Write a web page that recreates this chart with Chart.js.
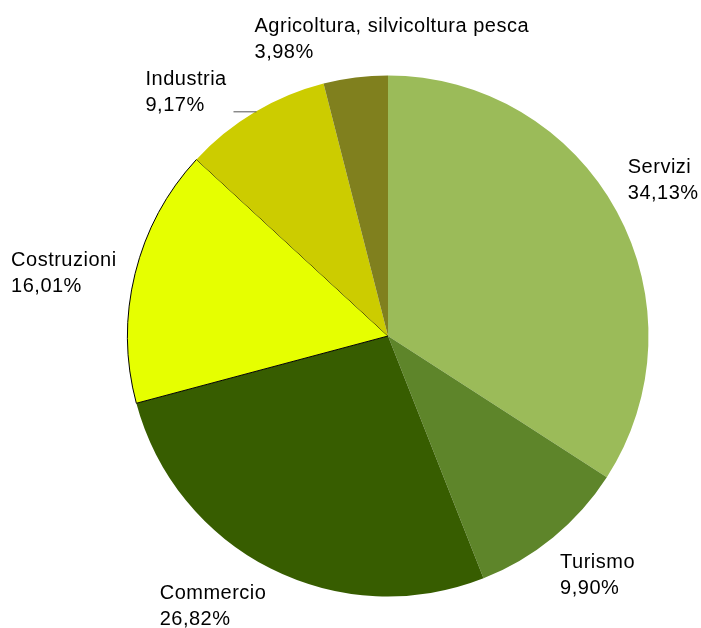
<!DOCTYPE html>
<html>
<head>
<meta charset="utf-8">
<script src="https://cdn.jsdelivr.net/npm/chart.js@4.4.1/dist/chart.umd.min.js"></script>
<style>
  html, body { margin: 0; padding: 0; background: #fff; }
  #wrap { width: 701px; height: 628px; }
</style>
</head>
<body>
<div id="wrap"><canvas id="c"></canvas></div>
<script>
const sectors = ["Servizi", "Turismo", "Commercio", "Costruzioni", "Industria", "Agricoltura, silvicoltura pesca"];
const shares = [34.13, 9.90, 26.82, 16.01, 9.17, 3.98];
const colors = ["#9BBB59", "#5E852A", "#375D00", "#E6FF00", "#CCCC00", "#80801E"];

// label placement relative to the outer middle point of each slice
const labelOffsets = [
  { dx: 11, dy: -38 },
  { dx: 7, dy: 30 },
  { dx: -111, dy: 30 },
  { dx: -124, dy: -8 },
  { dx: -109, dy: -27, leader: true },
  { dx: -101, dy: -46 },
];

const outsideLabels = {
  id: "outsideLabels",
  afterDatasetsDraw(chart) {
    const { ctx } = chart;
    const meta = chart.getDatasetMeta(0);
    ctx.save();
    ctx.font = "20px 'Liberation Sans', Arial, sans-serif";
    ctx.letterSpacing = "0.5px";
    ctx.fillStyle = "#000";
    ctx.textAlign = "left";
    ctx.textBaseline = "alphabetic";
    meta.data.forEach((arc, i) => {
      const { x, y, startAngle, endAngle, outerRadius } = arc.getProps(
        ["x", "y", "startAngle", "endAngle", "outerRadius"], true);
      const mid = (startAngle + endAngle) / 2;
      const px = x + Math.cos(mid) * outerRadius;
      const py = y + Math.sin(mid) * outerRadius;
      const off = labelOffsets[i];
      const tx = px + off.dx;
      const ty = py + off.dy;
      ctx.fillText(sectors[i], tx, ty);
      ctx.fillText(shares[i].toFixed(2).replace(".", ",") + "%", tx, ty + 26);
      if (off.leader) {
        ctx.strokeStyle = "#555";
        ctx.lineWidth = 1;
        ctx.beginPath();
        ctx.moveTo(tx + 88, ty + 26.5);
        ctx.lineTo(px + 2, ty + 26.5);
        ctx.stroke();
      }
    });
    ctx.restore();
  },
};

new Chart(document.getElementById("c"), {
  type: "pie",
  plugins: [outsideLabels],
  data: {
    labels: sectors,
    datasets: [
      {
        data: shares,
        backgroundColor: colors,
        borderColor: "#000",
        borderWidth: [0, 0, 0, 1, 0, 0],
      },
    ],
  },
  options: {
    animation: false,
    responsive: true,
    maintainAspectRatio: false,
    layout: {
      padding: { left: 127, right: 52, top: 75, bottom: 31 },
    },
    plugins: {
      legend: { display: false },
      tooltip: { enabled: false },
    },
  },
});
</script>
</body>
</html>
